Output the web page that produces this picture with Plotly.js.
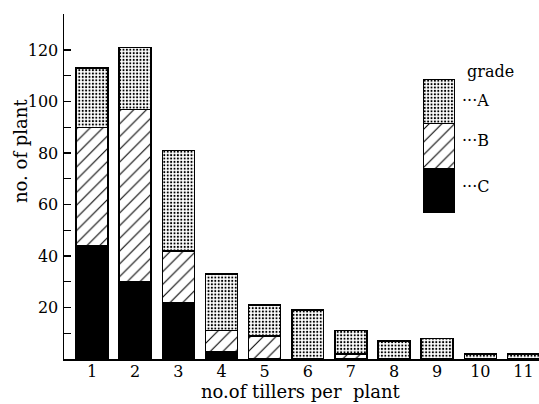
<!DOCTYPE html>
<html>
<head>
<meta charset="utf-8">
<script src="https://cdn.plot.ly/plotly-3.0.1.min.js"></script>
<style>html,body{margin:0;padding:0;background:#fff;}#chart{width:539px;height:404px;}</style>
</head>
<body>
<div id="chart"></div>
<script>
// Data
const tillers = [1, 2, 3, 4, 5, 6, 7, 8, 9, 10, 11];
const tickLabels = ['1','2','3','4','5','6','7','8','9','10','11'];
const gradeC = [44, 30, 22, 3, 0, 0, 0, 0, 0, 0, 0];
const gradeB = [46, 67, 20, 8, 9, 0, 2, 0, 0, 0, 0];
const gradeA = [23, 24, 39, 22, 12, 19, 9, 7, 8, 2, 2];
const legendGrades = ['C', 'B', 'A'];
const legendUnits = [1, 1, 1];

const serif = "'DejaVu Serif', 'Liberation Serif', serif";
const line = {color: '#000', width: 1.5};
const styleA = {color: '#fff', line: line, pattern: {shape: '.', fgcolor: '#000', bgcolor: '#fff', size: 3.4, solidity: 0.3}};
const styleB = {color: '#fff', line: line, pattern: {shape: '/', fgcolor: '#000', bgcolor: '#fff', size: 9, solidity: 0.12}};
const styleC = {color: '#000', line: line};
const styles = {A: styleA, B: styleB, C: styleC};

const traces = [
  {type: 'bar', x: tillers, y: gradeC, marker: styleC, name: 'C', showlegend: false, hoverinfo: 'skip'},
  {type: 'bar', x: tillers, y: gradeB, marker: styleB, name: 'B', showlegend: false, hoverinfo: 'skip'},
  {type: 'bar', x: tillers, y: gradeA, marker: styleA, name: 'A', showlegend: false, hoverinfo: 'skip'}
];
legendGrades.forEach((g, i) => {
  traces.push({type: 'bar', x: [0], y: [legendUnits[i]], marker: styles[g], xaxis: 'x2', yaxis: 'y2',
    showlegend: false, hoverinfo: 'skip', width: 1});
});

const W = 539, H = 404;
const ml = 64, mr = 0, mt = 14, mb = 45;
const pw = W - ml - mr, ph = H - mt - mb;
const px = v => (v - ml) / pw;
const py = v => (H - mb - v) / ph;

const layout = {
  width: W, height: H,
  margin: {l: ml, r: mr, t: mt, b: mb},
  paper_bgcolor: '#fff', plot_bgcolor: '#fff',
  barmode: 'stack', bargap: 0.26,
  font: {family: serif, color: '#000', size: 16},
  xaxis: {
    range: [0.35, 11.36], tickmode: 'array', tickvals: tillers, ticktext: tickLabels,
    showgrid: false, zeroline: false, showline: true, linecolor: '#000', linewidth: 1.5,
    ticks: '', ticklabelstandoff: -3, tickfont: {family: serif, size: 16}
  },
  yaxis: {
    range: [0, 134], tickmode: 'array', tickvals: [20, 40, 60, 80, 100, 120],
    showgrid: false, zeroline: false, showline: true, linecolor: '#000', linewidth: 1.5,
    ticks: 'inside', ticklen: 7, tickwidth: 1.2, tickcolor: '#000',
    minor: {tickvals: [10, 30, 50, 70, 90, 110], ticks: 'inside', ticklen: 7, tickwidth: 1.2, tickcolor: '#000'},
    tickfont: {family: serif, size: 16}, ticklabelstandoff: 1
  },
  xaxis2: {domain: [px(423), px(455)], anchor: 'y2', range: [-0.5, 0.5], visible: false, fixedrange: true},
  yaxis2: {domain: [py(213), py(79)], anchor: 'x2', range: [0, 3], visible: false, fixedrange: true},
  annotations: [
    {text: 'no.of tillers per\u00a0\u00a0plant', xref: 'paper', yref: 'paper', x: px(301), y: py(392),
      xanchor: 'center', yanchor: 'middle', showarrow: false, font: {family: serif, size: 18}},
    {text: 'no. of plant', xref: 'paper', yref: 'paper', x: px(20), y: py(151),
      xanchor: 'center', yanchor: 'middle', textangle: -90, showarrow: false, font: {family: serif, size: 18}},
    {text: 'grade', xref: 'paper', yref: 'paper', x: px(465), y: py(71),
      xanchor: 'left', yanchor: 'middle', showarrow: false, font: {family: serif, size: 16}},
    {text: '\u00b7\u00b7\u00b7A', xref: 'paper', yref: 'paper', x: px(460), y: py(100),
      xanchor: 'left', yanchor: 'middle', showarrow: false, font: {family: serif, size: 16}},
    {text: '\u00b7\u00b7\u00b7B', xref: 'paper', yref: 'paper', x: px(460), y: py(140),
      xanchor: 'left', yanchor: 'middle', showarrow: false, font: {family: serif, size: 16}},
    {text: '\u00b7\u00b7\u00b7C', xref: 'paper', yref: 'paper', x: px(460), y: py(186),
      xanchor: 'left', yanchor: 'middle', showarrow: false, font: {family: serif, size: 16}}
  ]
};

Plotly.newPlot('chart', traces, layout, {staticPlot: true, displayModeBar: false});
</script>
</body>
</html>
